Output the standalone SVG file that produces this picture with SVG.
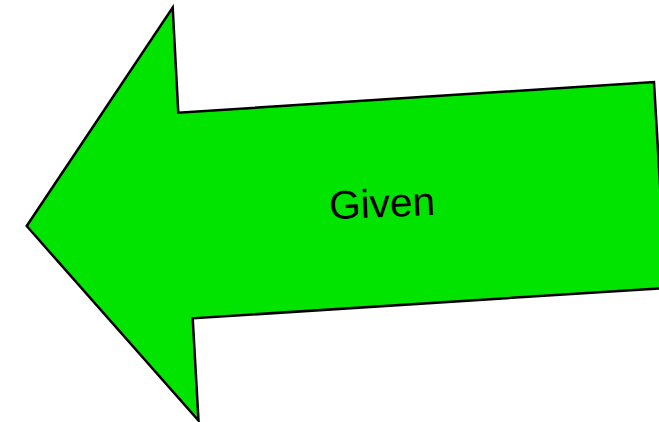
<svg xmlns="http://www.w3.org/2000/svg" width="659" height="422" viewBox="0 0 659 422">
<style>
.arrow{fill:#00e400;stroke:#000;stroke-width:2.5;stroke-linejoin:miter}
.lbl{font-family:"Liberation Sans",Arial,sans-serif;font-size:40px;fill:#000}
</style>
<rect width="659" height="422" fill="#fff"/>
<g id="given-arrow">
<polygon class="arrow" points="26.7,226 172.7,7.5 178.3,112.7 654,82 666,288 192.7,318.3 198.5,420.5"/>
<text class="lbl" x="382" y="217" text-anchor="middle" textLength="106" lengthAdjust="spacingAndGlyphs" transform="rotate(-2.5 382 203)">Given</text>
</g>
</svg>
